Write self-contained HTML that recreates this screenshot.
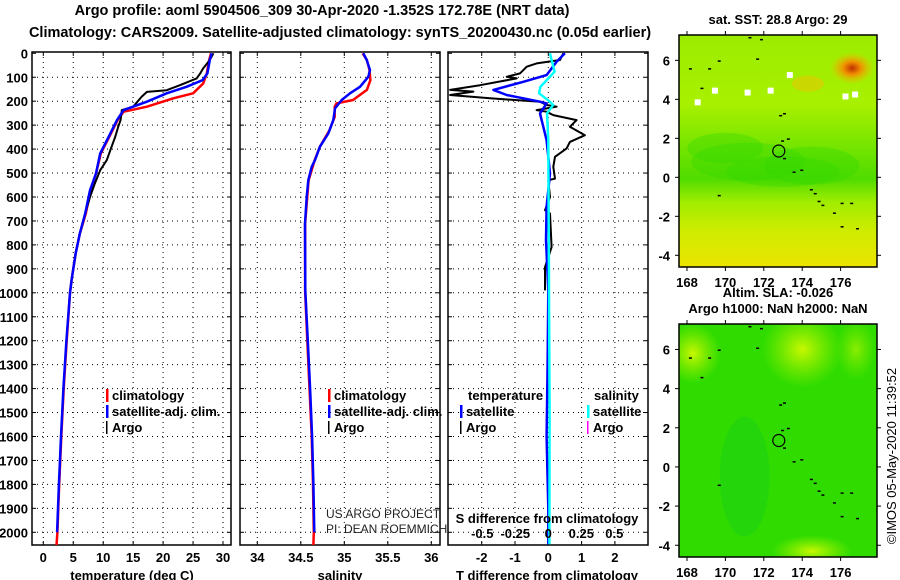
<!DOCTYPE html>
<html><head><meta charset="utf-8"><style>
body{margin:0;background:#fff}
svg{display:block;font-family:"Liberation Sans",sans-serif}
.b{font-weight:bold;font-size:13px}
</style></head><body>
<svg id="c" width="900" height="580" viewBox="0 0 900 580">
<defs>
<linearGradient id="sst" x1="0" y1="0" x2="0" y2="1">
<stop offset="0" stop-color="#9cec00"/><stop offset="0.3" stop-color="#a8f000"/><stop offset="0.5" stop-color="#70e400"/><stop offset="0.62" stop-color="#50dc00"/><stop offset="0.72" stop-color="#a0ec00"/><stop offset="0.85" stop-color="#d0ec00"/><stop offset="1" stop-color="#ece400"/></linearGradient>
<radialGradient id="hot" cx="0.5" cy="0.5" r="0.5"><stop offset="0" stop-color="#c03000"/><stop offset="0.4" stop-color="#f09000"/><stop offset="1" stop-color="#f0c000" stop-opacity="0"/></radialGradient>
<radialGradient id="lg1" cx="0.5" cy="0.5" r="0.5"><stop offset="0" stop-color="#c8f800"/><stop offset="1" stop-color="#a0f000" stop-opacity="0"/></radialGradient>
</defs>
<g class="b">
<text x="322" y="15" text-anchor="middle" font-size="14.5">Argo profile: aoml 5904506_309 30-Apr-2020 -1.352S 172.78E (NRT data)</text>
<text x="340" y="37" text-anchor="middle" font-size="14.5">Climatology: CARS2009. Satellite-adjusted climatology: synTS_20200430.nc (0.05d earlier)</text>
</g>
<g id="axes"></g>
<g id="maps"></g>
</svg>
<script>
const NS='http://www.w3.org/2000/svg';
const svg=document.getElementById('c');
function mk(tag,at,parent){const e=document.createElementNS(NS,tag);for(const k in at)e.setAttribute(k,at[k]);(parent||svg).appendChild(e);return e;}
function txt(s,x,y,at){const e=mk('text',Object.assign({x:x,y:y},at||{}));e.textContent=s;return e;}

// ---- data ----
const depthTicks=[0,100,200,300,400,500,600,700,800,900,1000,1100,1200,1300,1400,1500,1600,1700,1800,1900,2000];
const tempTicks=[0,5,10,15,20,25,30];
const salTicks=[34,34.5,35,35.5,36];
const salTickLabels=['34','34.5','35','35.5','36'];
const tdTicks=[-2,-1,0,1,2];
const sdTicks=[-0.5,-0.25,0,0.25,0.5];
const sdTickLabels=['-0.5','-0.25','0','0.25','0.5'];

const tSatDepth=[0,28,84,112,140,167,202,237,279,349,418,502,572,669,753,837,949,1000,1200,1400,1600,1800,2000];
const tSat=[28.1,27.8,27.4,26.6,23.9,20.6,17.3,13.4,12.3,10.9,9.5,8.8,7.8,7.0,6.1,5.4,4.7,4.45,3.85,3.35,2.95,2.6,2.3];
const tClimDepth=[0,28,84,126,167,188,223,244,279,349,418,502,572,669,753,837,949,1000,1200,1400,1600,1800,2000,2055];
const tClim=[28.0,27.7,27.3,26.7,25.0,21.7,17.3,13.4,12.4,11.0,9.6,8.8,7.9,7.1,6.1,5.4,4.7,4.45,3.9,3.4,3.0,2.65,2.35,2.2];
const tArgoDepth=[0,28,63,84,105,133,154,161,182,223,237,279,307,349,390,446,488,544,600,669,753,837,949,990];
const tArgo=[28.4,27.8,26.7,26.2,25.6,22.8,20.6,17.3,16.4,15.0,13.1,12.9,12.5,12.0,11.4,10.6,9.5,8.6,7.8,7.0,6.1,5.4,4.7,4.5];

const sSatDepth=[0,28,70,98,140,167,195,230,279,335,390,446,474,530,600,711,990,1200,1400,1600,1800,2000];
const sSat=[35.218,35.257,35.295,35.276,35.18,35.066,34.97,34.893,34.874,34.816,34.72,34.663,34.625,34.586,34.568,34.548,34.552,34.58,34.607,34.63,34.645,34.655];
const sClimDepth=[0,28,70,112,153,195,209,223,265,321,390,446,530,711,990,1200,1400,1600,1800,2000,2055];
const sClim=[35.21,35.26,35.29,35.30,35.26,35.10,34.91,34.89,34.89,34.83,34.72,34.66,34.59,34.55,34.55,34.575,34.60,34.625,34.64,34.65,34.645];

const dtArgoDepth=[0,28,42,56,84,98,105,133,153,160,174,188,202,216,223,237,244,258,279,307,342,370,397,432,474,523,530,600,655,669,809,893,990];
const dtArgo=[0.45,0.35,-0.35,-0.65,-0.85,-1.25,-0.95,-2.05,-2.95,-2.25,-2.95,-1.75,-0.25,-0.05,0.25,-0.35,-0.05,0.15,0.85,0.65,1.1,0.65,0.55,0.2,0.15,0.2,0,0.05,-0.1,0.05,0.1,-0.1,-0.1];
const dtSatDepth=[0,35,91,119,153,174,202,209,251,307,363,502,641,781,990,1300,1600,1900,2050];
const dtSat=[0.5,0.25,-0.05,-0.75,-1.65,-1.25,-0.25,-0.05,-0.25,-0.15,-0.05,0.05,-0.05,-0.07,0,-0.02,-0.05,0.0,0.0];
const dsSatDepth=[0,77,140,167,202,216,251,363,990,1500,2050];
const dsSat=[0.012,0.048,-0.06,-0.07,0.012,0.036,-0.01,0,0.005,0.01,0.008];

// ---- scales ----
const Y0=53.3, YK=0.2395;
const yD=d=>Y0+d*YK;
const xT=t=>43.3+t*5.99;
const xS=s=>257.3+(s-34)*87;
const xDT=t=>548.3+t*33.3;
const xDS=s=>548.3+s*132;
const TOP=52, BOT=545;
const panels=[{l:32,r:231,name:'temperature-panel'},{l:240,r:440,name:'salinity-panel'},{l:448,r:648,name:'difference-panel'}];

const ax=document.getElementById('axes');
panels.forEach((p,i)=>{
  const g=mk('g',{},ax);
  
  
  const cp=mk('clipPath',{id:'cp'+i},g);
  mk('rect',{x:p.l,y:TOP,width:p.r-p.l,height:BOT-TOP},cp);
  depthTicks.forEach(d=>{
    if(d>0) mk('line',{x1:p.l,x2:p.r,y1:yD(d),y2:yD(d),stroke:'#000','stroke-width':1,'stroke-dasharray':'1 4'},g);
    mk('line',{x1:p.l,x2:p.l+4,y1:yD(d),y2:yD(d),stroke:'#000'},g);
    mk('line',{x1:p.r-4,x2:p.r,y1:yD(d),y2:yD(d),stroke:'#000'},g);
  });
  const ticks=i==0?tempTicks.map(xT):i==1?salTicks.map(xS):tdTicks.map(xDT);
  ticks.forEach(x=>{
    mk('line',{x1:x,x2:x,y1:TOP,y2:BOT,stroke:'#000','stroke-dasharray':'1 4'},g);
    mk('line',{x1:x,x2:x,y1:BOT-4,y2:BOT,stroke:'#000'},g);
    mk('line',{x1:x,x2:x,y1:TOP,y2:TOP+4,stroke:'#000'},g);
  });
  mk('rect',{x:p.l,y:TOP,width:p.r-p.l,height:BOT-TOP,fill:'none',stroke:'#000','stroke-width':1.5},g);
  p.g=mk('g',{'clip-path':'url(#cp'+i+')'},g);
});
depthTicks.forEach(d=>{
  const t=txt(String(d),28,yD(d)+5,{'text-anchor':'end','class':'b','font-size':'12.5'});
  
  
});
function xlabels(vals,labels,fx,y,name){vals.forEach((v,k)=>{const t=txt(labels[k],fx(v),y,{'text-anchor':'middle','class':'b','font-size':'12.5'});});}
xlabels(tempTicks,tempTicks.map(String),xT,562,'temperature-tick-label');
xlabels(salTicks,salTickLabels,xS,562,'salinity-tick-label');
xlabels(tdTicks,tdTicks.map(String),xDT,562,'t-difference-tick-label');
xlabels(sdTicks,sdTickLabels,xDS,538,'s-difference-tick-label');
[['temperature (deg C)',132,'temperature-axis-title'],['salinity',340,'salinity-axis-title'],['T difference from climatology',547,'t-difference-axis-title']].forEach(a=>{
  const t=txt(a[0],a[1],580,{'text-anchor':'middle','class':'b','font-size':'12.5'});
  });
{const t=txt('S difference from climatology',547,523,{'text-anchor':'middle','class':'b','font-size':'12.5'});
}

function line(g,vals,deps,fx,color,w,name){
  const pts=vals.map((v,k)=>fx(v).toFixed(1)+','+yD(deps[k]).toFixed(1)).join(' ');
  const e=mk('polyline',{points:pts,fill:'none',stroke:color,'stroke-width':w,'stroke-linejoin':'round'},g);
  
  
}
line(panels[0].g,tClim,tClimDepth,xT,'#f00',2.5,'temperature-climatology-line');
line(panels[0].g,tArgo,tArgoDepth,xT,'#000',2,'temperature-argo-line');
line(panels[0].g,tSat,tSatDepth,xT,'#00f',2.5,'temperature-satellite-line');
line(panels[1].g,sClim,sClimDepth,xS,'#f00',2.5,'salinity-climatology-line');
line(panels[1].g,sSat,sSatDepth,xS,'#00f',2.5,'salinity-satellite-line');
line(panels[2].g,dtArgo,dtArgoDepth,xDT,'#000',2,'t-difference-argo-line');
line(panels[2].g,dtSat,dtSatDepth,xDT,'#00f',2.5,'t-difference-satellite-line');
line(panels[2].g,dsSat,dsSatDepth,xDS,'#0ff',2.5,'s-difference-satellite-line');

function leg(x,y,color,label,name,w){
  const g=mk('g',{});
  
  
  mk('rect',{x:x,y:y-11,width:w||2.5,height:13,fill:color},g);
  const t=txt(label,x+6,y,{'class':'b','font-size':'12.5'});g.appendChild(t);
}
leg(106,400,'#f00','climatology','legend-climatology');
leg(106,416,'#00f','satellite-adj. clim.','legend-satellite-adj');
leg(106,432,'#000','Argo','legend-argo',1.5);
leg(328,400,'#f00','climatology','legend-sal-climatology');
leg(328,416,'#00f','satellite-adj. clim.','legend-sal-satellite-adj');
leg(328,432,'#000','Argo','legend-sal-argo',1.5);
{const t=txt('temperature',468,400,{'class':'b','font-size':'12.5'});}
{const t=txt('salinity',594,400,{'class':'b','font-size':'12.5'});}
leg(460,416,'#00f','satellite','legend-td-satellite');
leg(460,432,'#000','Argo','legend-td-argo',1.5);
leg(587,416,'#0ff','satellite','legend-sd-satellite');
leg(587,432,'#f0f','Argo','legend-sd-argo',1.5);
{const t=txt('US ARGO PROJECT',326,518,{'font-size':'12','fill':'#222'});}
{const t=txt('PI: DEAN ROEMMICH',326,533,{'font-size':'12','fill':'#222'});}

// ---- maps ----
const lonTicks=[168,170,172,174,176];
const latTicks=[-4,-2,0,2,4,6];
const coast=[[171.2,7.2],[171.8,7.1],[169.6,6.0],[171.6,6.1],[168.1,5.6],[169.1,5.6],[168.7,4.6],[172.8,3.2],[173.0,3.3],[172.9,1.9],[173.2,2.0],[173.0,1.0],[173.5,0.3],[173.9,0.4],[174.4,-0.6],[174.6,-0.8],[174.8,-1.2],[175.0,-1.4],[175.6,-1.8],[176.0,-1.3],[176.5,-1.3],[176.0,-2.5],[176.8,-2.6],[169.6,-0.9]];
const argoPos=[172.78,1.35];
function drawMap(top,bot,kind,title1,title2){
  const L=679,R=877;
  const xL=lon=>687+(lon-168)*19.2;
  const yL=lat=>top+(7.3-lat)*((bot-top)/11.9);
  const g=mk('g',{},document.getElementById('maps'));
  
  
  const cid='mc'+kind;
  const cp=mk('clipPath',{id:cid},g);mk('rect',{x:L,y:top,width:R-L,height:bot-top},cp);
  const f=mk('g',{'clip-path':'url(#'+cid+')'},g);
  if(kind=='sst'){
    mk('rect',{x:L,y:top,width:R-L,height:bot-top,fill:'url(#sst)'},f);
    mk('ellipse',{cx:xL(176.6),cy:yL(5.6),rx:22,ry:16,fill:'url(#hot)'},f);
    mk('ellipse',{cx:xL(174.3),cy:yL(4.8),rx:16,ry:8,fill:'#f0c000',opacity:0.5},f);
    [[171.2,0.8,3,1],[174.5,0.6,2.5,1],[170,1.5,2,0.8],[173,0.3,3,0.8]].forEach(b=>mk('ellipse',{cx:xL(b[0]),cy:yL(b[1]),rx:b[2]*19,ry:b[3]*19,fill:'#30d800',opacity:0.35},f));
    [[171,4.5],[168.4,4],[169.3,4.6],[172.2,4.6],[173.2,5.4],[176.1,4.3],[176.6,4.4]].forEach(p=>mk('rect',{x:xL(p[0]),y:yL(p[1]),width:6,height:6,fill:'#fff'},f));
  } else {
    mk('rect',{x:L,y:top,width:R-L,height:bot-top,fill:'#30dc00'},f);
    mk('ellipse',{cx:xL(174),cy:yL(6),rx:40,ry:38,fill:'url(#lg1)'},f);
    mk('ellipse',{cx:xL(168.3),cy:yL(5.8),rx:28,ry:30,fill:'url(#lg1)'},f);
    mk('ellipse',{cx:xL(176.8),cy:yL(6),rx:20,ry:30,fill:'url(#lg1)',opacity:0.6},f);
    mk('ellipse',{cx:xL(174.5),cy:yL(-4.3),rx:40,ry:16,fill:'url(#lg1)'},f);
    mk('ellipse',{cx:xL(171),cy:yL(-0.5),rx:25,ry:60,fill:'#10c820',opacity:0.35},f);
  }
  coast.forEach(c=>mk('rect',{x:xL(c[0]),y:yL(c[1]),width:3,height:1.5,fill:'#000'},f));
  const ci=mk('circle',{cx:xL(argoPos[0]),cy:yL(argoPos[1]),r:6,fill:'none',stroke:'#000','stroke-width':1.2},f);
  
  
  mk('rect',{x:L,y:top,width:R-L,height:bot-top,fill:'none',stroke:'#000','stroke-width':1.5},g);
  lonTicks.forEach(l=>{
    mk('line',{x1:xL(l),x2:xL(l),y1:top,y2:top-4,stroke:'#000'},g);
    mk('line',{x1:xL(l),x2:xL(l),y1:bot,y2:bot+4,stroke:'#000'},g);
    const t=txt(String(l),xL(l),bot+20,{'text-anchor':'middle','class':'b','font-size':'12.5'});
    
  });
  latTicks.forEach(l=>{
    mk('line',{x1:L,x2:L-4,y1:yL(l),y2:yL(l),stroke:'#000'},g);
    mk('line',{x1:R,x2:R+4,y1:yL(l),y2:yL(l),stroke:'#000'},g);
    const t=txt(String(l),670,yL(l)+5,{'text-anchor':'end','class':'b','font-size':'12.5'});
    
  });
  const a=txt(title1,778,title2?top-27:top-11,{'text-anchor':'middle','class':'b','font-size':'12.5'});
  
  if(title2){const b=txt(title2,778,top-11,{'text-anchor':'middle','class':'b','font-size':'12.5'});
  }
}
drawMap(35,267,'sst','sat. SST: 28.8 Argo: 29');
drawMap(324,557,'sla','Altim. SLA: -0.026','Argo h1000: NaN h2000: NaN');
{const t=txt('©IMOS 05-May-2020 11:39:52',0,0,{'font-size':'13','transform':'translate(896,456) rotate(-90)','text-anchor':'middle'});
}
</script>
</body></html>
